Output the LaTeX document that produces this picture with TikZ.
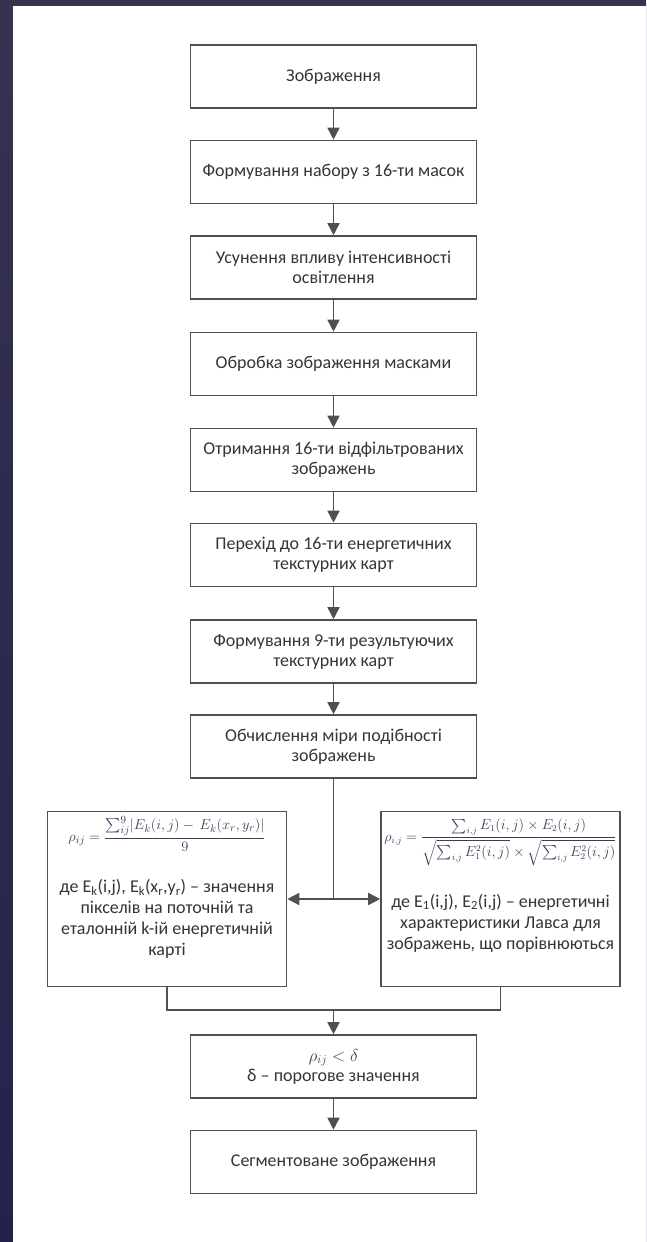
\documentclass[tikz,border=0pt]{standalone}
\usepackage{amsmath}
\usepackage{fontspec}
\setmainfont{Carlito}
\usetikzlibrary{arrows.meta}
\definecolor{bgtop}{HTML}{363250}
\definecolor{bgbot}{HTML}{22234C}
\definecolor{linec}{HTML}{505050}
\definecolor{txt}{HTML}{353535}
\definecolor{mathc}{HTML}{3A3D5A}
\tikzset{
  box/.style={draw=linec, line width=1.6pt, fill=white, minimum width=286pt,
    minimum height=63pt, align=center, text=txt, inner sep=2pt,
    font=\fontsize{18}{20}\selectfont},
  sidebox/.style={draw=linec, line width=1.6pt, fill=white, minimum width=239pt,
    minimum height=175pt, text=txt, inner sep=1pt,
    font=\fontsize{18}{21}\selectfont},
  conn/.style={draw=linec, line width=1.6pt},
  arr/.style={conn, -{Triangle[length=12pt,width=12pt]}},
}
\begin{document}
\begin{tikzpicture}[x=1pt,y=-1pt]
\useasboundingbox (0,0) rectangle (646,1242);
\shade[top color=bgtop, bottom color=bgbot] (0,0) rectangle (646,1242);
\fill[white] (13,6) rectangle (646,1242);

\node[box] (b1) at (333.5,76.5) {Зображення};
\node[box] (b2) at (333.5,172) {Формування набору з 16-ти масок};
\node[box] (b3) at (333.5,267.5) {Усунення впливу інтенсивності\\освітлення};
\node[box] (b4) at (333.5,364) {Обробка зображення масками};
\node[box] (b5) at (333.5,460) {Отримання 16-ти відфільтрованих\\зображень};
\node[box] (b6) at (333.5,555) {Перехід до 16-ти енергетичних\\текстурних карт};
\node[box] (b7) at (333.5,651.5) {Формування 9-ти результуючих\\текстурних карт};
\node[box] (b8) at (333.5,746.5) {Обчислення міри подібності\\зображень};

\node[sidebox] (lbox) at (167,899) {\parbox[c][166pt][t]{234pt}{\centering
  \mbox{\fontsize{15}{17}\selectfont\color{mathc}$\displaystyle \rho_{ij}=\frac{\sum_{ij}^{9}\lvert E_k(i,j)-\,E_k(x_r,y_r)\rvert}{9}$}\par\vspace{27pt}
  де E\textsubscript{k}(i,j), E\textsubscript{k}(x\textsubscript{r},y\textsubscript{r}) – значення\\
  пікселів на поточній та\\
  еталонній k-ій енергетичній\\
  карті}};
\node[sidebox] (rbox) at (500.5,899) {\parbox[c][166pt][t]{234pt}{\centering
  \vspace{3pt}\mbox{\fontsize{13.5}{16}\selectfont\color{mathc}$\displaystyle \rho_{i,j}=\frac{\sum_{i,j}E_1(i,j)\times E_2(i,j)}{\sqrt{\sum_{i,j}E_1^2(i,j)}\times\sqrt{\sum_{i,j}E_2^2(i,j)}}$}\par\vspace{27pt}
  де E\textsubscript{1}(i,j), E\textsubscript{2}(i,j) – енергетичні\\
  характеристики Лавса для\\
  зображень, що порівнюються}};

\node[box] (b9) at (333.5,1066.5) {{\color{mathc}$\rho_{ij}<\delta$}\\δ – порогове значення};
\node[box] (b10) at (333.5,1162) {Сегментоване зображення};

\draw[arr] (b1) -- (b2);
\draw[arr] (b2) -- (b3);
\draw[arr] (b3) -- (b4);
\draw[arr] (b4) -- (b5);
\draw[arr] (b5) -- (b6);
\draw[arr] (b6) -- (b7);
\draw[arr] (b7) -- (b8);

\coordinate (split) at (333.5,899);
\draw[conn] (b8.south) -- (split);
\draw[arr] (split) -- (split -| lbox.east);
\draw[arr] (split) -- (split -| rbox.west);

\coordinate (merge) at (333.5,1010);
\draw[conn] (lbox.south) |- (merge);
\draw[conn] (rbox.south) |- (merge);
\draw[arr] (merge) -- (b9.north);
\draw[arr] (b9) -- (b10);
\end{tikzpicture}
\end{document}
